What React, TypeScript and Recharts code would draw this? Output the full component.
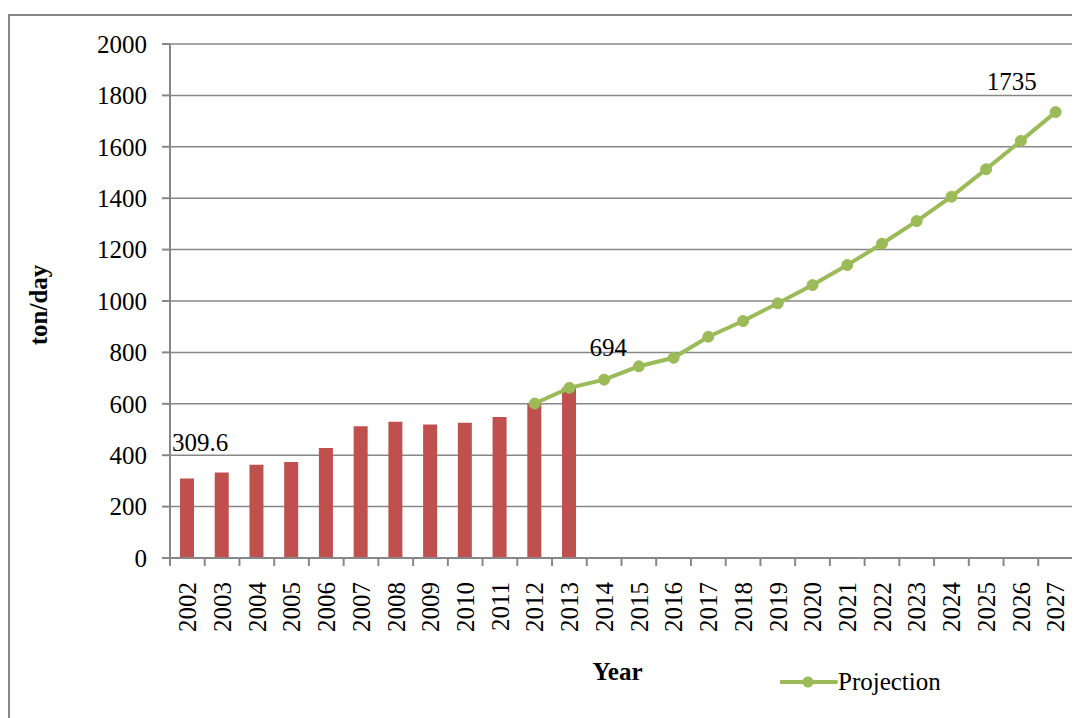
import { ComposedChart, Bar, Line, XAxis, YAxis, CartesianGrid, LabelList } from "recharts";

// ton/day per year: measured bars up to 2013, projection line from 2012 on
const years = [
  "2002", "2003", "2004", "2005", "2006", "2007", "2008", "2009", "2010",
  "2011", "2012", "2013", "2014", "2015", "2016", "2017", "2018", "2019",
  "2020", "2021", "2022", "2023", "2024", "2025", "2026", "2027",
];
const measured = [309.6, 333, 363, 374, 428, 513, 530, 519, 526, 549, 601, 662];
const projectionStart = "2012";
const projection = [
  601, 662, 694, 746, 779, 861, 922, 991, 1062, 1140, 1223, 1311, 1406, 1513, 1623, 1735,
];
const yTicks = [0, 200, 400, 600, 800, 1000, 1200, 1400, 1600, 1800, 2000];

const startIdx = years.indexOf(projectionStart);
const rows = years.map((year, i) => ({
  year,
  measured: i < measured.length ? measured[i] : null,
  projection: i >= startIdx ? projection[i - startIdx] : null,
}));

const FONT = "'Liberation Serif', 'Times New Roman', serif";
const AXIS = "#878787";
const RED = "#C0504D";
const GREEN = "#9BBB59";

// where a few values get written out, relative to the mark
const barLabelAt: Record<string, { dx: number; dy: number }> = {
  "2002": { dx: 13, dy: -27 },
};
const lineLabelAt: Record<string, { dx: number; dy: number }> = {
  "2014": { dx: 4, dy: -24 },
  "2027": { dx: -44, dy: -22 },
};

function makeLabel(table: Record<string, { dx: number; dy: number }>) {
  return (props: any) => {
    const { index, value } = props;
    const pos = table[years[index]];
    if (!pos || value == null) return null;
    const vb = props.viewBox ?? props;
    const x = vb.x + (vb.width ?? 0) / 2;
    const y = vb.y;
    return (
      <text x={x + pos.dx} y={y + pos.dy} textAnchor="middle" fontSize={25} fontFamily={FONT} fill="#000">
        {value}
      </text>
    );
  };
}

// year labels stand upright; tick marks sit between the categories
function YearTick(props: any) {
  const { x, y, payload, index, visibleTicksCount } = props;
  const half = payload?.offset ?? 0;
  const last = index === visibleTicksCount - 1;
  return (
    <g>
      <line x1={x - half} x2={x - half} y1={y} y2={y + 8} stroke={AXIS} strokeWidth={2} />
      {last && <line x1={x + half} x2={x + half} y1={y} y2={y + 8} stroke={AXIS} strokeWidth={2} />}
      <text
        x={x}
        y={y + 24}
        transform={`rotate(-90, ${x}, ${y + 24})`}
        textAnchor="end"
        dy="0.35em"
        fontSize={25}
        fontFamily={FONT}
        fill="#000"
      >
        {payload.value}
      </text>
    </g>
  );
}

export default function App() {
  return (
    <div style={{ position: "relative", width: 1072, height: 710, fontFamily: FONT }}>
      <div
        style={{
          position: "absolute",
          left: 0,
          top: 6,
          width: 1072,
          height: 704,
          borderTop: `2px solid ${AXIS}`,
          borderLeft: `2px solid ${AXIS}`,
          boxSizing: "border-box",
        }}
      />
      <div style={{ position: "absolute", left: 0, top: 0 }}>
        <ComposedChart
          width={1072}
          height={710}
          data={rows}
          margin={{ top: 36, right: 7, bottom: 0, left: 0 }}
          barCategoryGap={0}
        >
          <CartesianGrid vertical={false} stroke={AXIS} strokeWidth={1.5} />
          <XAxis
            dataKey="year"
            interval={0}
            height={160}
            padding={{ left: 0, right: 0 }}
            axisLine={{ stroke: AXIS, strokeWidth: 2 }}
            tickLine={false}
            tickSize={0}
            tickMargin={0}
            tick={<YearTick />}
            label={{
              value: "Year",
              position: "insideBottom",
              offset: 38,
              dx: -4,
              style: { fontSize: 25, fontWeight: "bold", fontFamily: FONT, fill: "#000" },
            }}
          />
          <YAxis
            width={162}
            domain={[0, 2000]}
            ticks={yTicks}
            interval={0}
            axisLine={{ stroke: AXIS, strokeWidth: 2 }}
            tickLine={{ stroke: AXIS, strokeWidth: 2 }}
            tickSize={8}
            tickMargin={15}
            tick={{ fontSize: 25, fontFamily: FONT, fill: "#000" }}
            label={{
              value: "ton/day",
              angle: -90,
              position: "insideLeft",
              offset: 30,
              dy: 4,
              style: { textAnchor: "middle", fontSize: 25, fontWeight: "bold", fontFamily: FONT, fill: "#000" },
            }}
          />
          <Bar dataKey="measured" fill={RED} barSize={14} isAnimationActive={false}>
            <LabelList dataKey="measured" content={makeLabel(barLabelAt)} />
          </Bar>
          <Line
            dataKey="projection"
            stroke={GREEN}
            strokeWidth={4}
            dot={{ r: 5.5, fill: GREEN, stroke: GREEN, strokeWidth: 1 }}
            activeDot={false}
            isAnimationActive={false}
          >
            <LabelList dataKey="projection" content={makeLabel(lineLabelAt)} />
          </Line>
        </ComposedChart>
      </div>
      <div style={{ position: "absolute", left: 772, top: 656, display: "flex", alignItems: "center" }}>
        <svg width={58} height={36}>
          <line x1={0} x2={56} y1={18} y2={18} stroke={GREEN} strokeWidth={4} strokeLinecap="round" />
          <circle cx={28} cy={18} r={5.5} fill={GREEN} />
        </svg>
        <span style={{ fontSize: 25, color: "#000", lineHeight: "36px" }}>Projection</span>
      </div>
    </div>
  );
}
